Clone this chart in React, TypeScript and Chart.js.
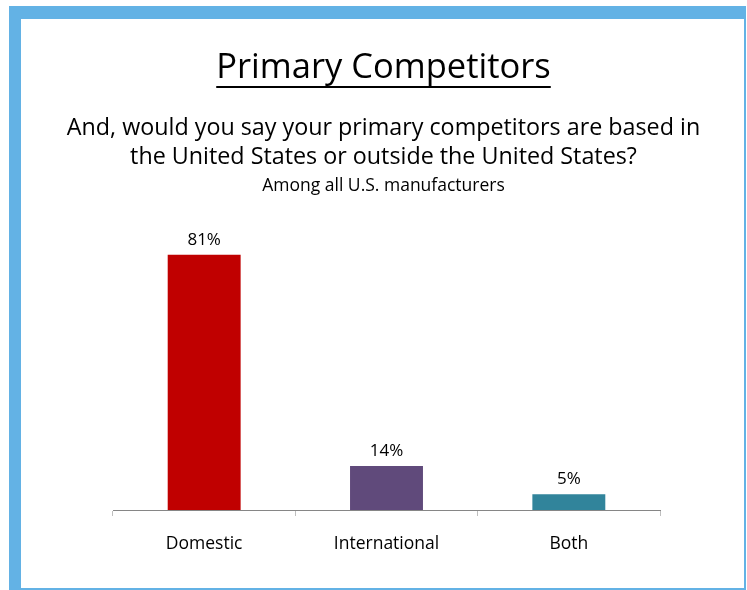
import React, { useEffect, useRef } from "react";
import { Chart, registerables } from "chart.js";

Chart.register(...registerables);

const categories: string[] = ["Domestic", "International", "Both"];
const values: number[] = [81, 14, 5];
const barColors: string[] = ["#C00000", "#604A7B", "#31849B"];
const valueLabels: string[] = ["81%", "14%", "5%"];

const FONT = "'Open Sans', 'Noto Sans', sans-serif";
const ASC = 1.069;
const LH = 1.362;

const dataLabelPlugin = {
  id: "dataLabels",
  afterDatasetsDraw(chart: any) {
    const ctx = chart.ctx;
    const meta = chart.getDatasetMeta(0);
    ctx.save();
    ctx.font = `17px ${FONT}`;
    ctx.fillStyle = "#000000";
    ctx.textAlign = "center";
    ctx.textBaseline = "alphabetic";
    meta.data.forEach((bar: any, i: number) => {
      ctx.fillText(valueLabels[i], bar.x, bar.y - 10);
    });
    ctx.restore();
  },
};

export default function App() {
  const canvasRef = useRef<HTMLCanvasElement | null>(null);

  useEffect(() => {
    if (!canvasRef.current) return;
    const chart = new Chart(canvasRef.current, {
      type: "bar",
      data: {
        labels: categories,
        datasets: [
          {
            data: values,
            backgroundColor: barColors,
            borderWidth: 0,
            categoryPercentage: 1,
            barPercentage: 0.4,
          },
        ],
      },
      options: {
        animation: false,
        responsive: false,
        maintainAspectRatio: false,
        layout: { padding: { top: 195, left: 113, right: 87, bottom: 0 } },
        plugins: {
          legend: { display: false },
          tooltip: { enabled: false },
          title: { display: false },
        },
        scales: {
          x: {
            afterFit: (scale: any) => {
              scale.height = 80;
            },
            grid: {
              display: true,
              drawOnChartArea: false,
              drawTicks: true,
              tickLength: 6,
              color: "#BFBFBF",
              offset: true,
            },
            border: { display: true, color: "#868686", width: 1 },
            ticks: {
              color: "#000000",
              padding: 18,
              font: { family: FONT, size: 17.5 },
              maxRotation: 0,
            },
          },
          y: {
            display: false,
            min: 0,
            max: 100,
          },
        },
      },
      plugins: [dataLabelPlugin],
    });
    return () => chart.destroy();
  }, []);

  const textBase: React.CSSProperties = {
    position: "absolute",
    left: 21,
    width: 725,
    textAlign: "center",
    fontFamily: FONT,
    color: "#000000",
    whiteSpace: "nowrap",
  };

  const line = (baseline: number, fs: number): React.CSSProperties => ({
    ...textBase,
    top: baseline - fs * ASC,
    fontSize: fs,
    lineHeight: `${fs * LH}px`,
  });

  return (
    <div style={{ position: "absolute", left: 0, top: 0, width: 747, height: 590, background: "#ffffff", overflow: "hidden" }}>
      <div
        style={{
          position: "absolute",
          left: 9,
          top: 6,
          width: 737,
          height: 584,
          boxSizing: "border-box",
          borderLeft: "12px solid #63B2E5",
          borderTop: "13px solid #63B2E5",
          borderRight: "2px solid #63B2E5",
          borderBottom: "2px solid #63B2E5",
        }}
      />
      <canvas
        ref={canvasRef}
        width={747}
        height={590}
        style={{ position: "absolute", left: 0, top: 0, width: 747, height: 590, display: "block" }}
      />
      <div style={line(78, 34.5)}>
        <span style={{ textDecoration: "underline", textDecorationThickness: "2px", textUnderlineOffset: "8px" }}>
          Primary Competitors
        </span>
      </div>
      <div style={line(136, 23.3)}>And, would you say your primary competitors are based in</div>
      <div style={line(165, 23.3)}>the United States or outside the United States?</div>
      <div style={line(191.5, 17.5)}>Among all U.S. manufacturers</div>
    </div>
  );
}
